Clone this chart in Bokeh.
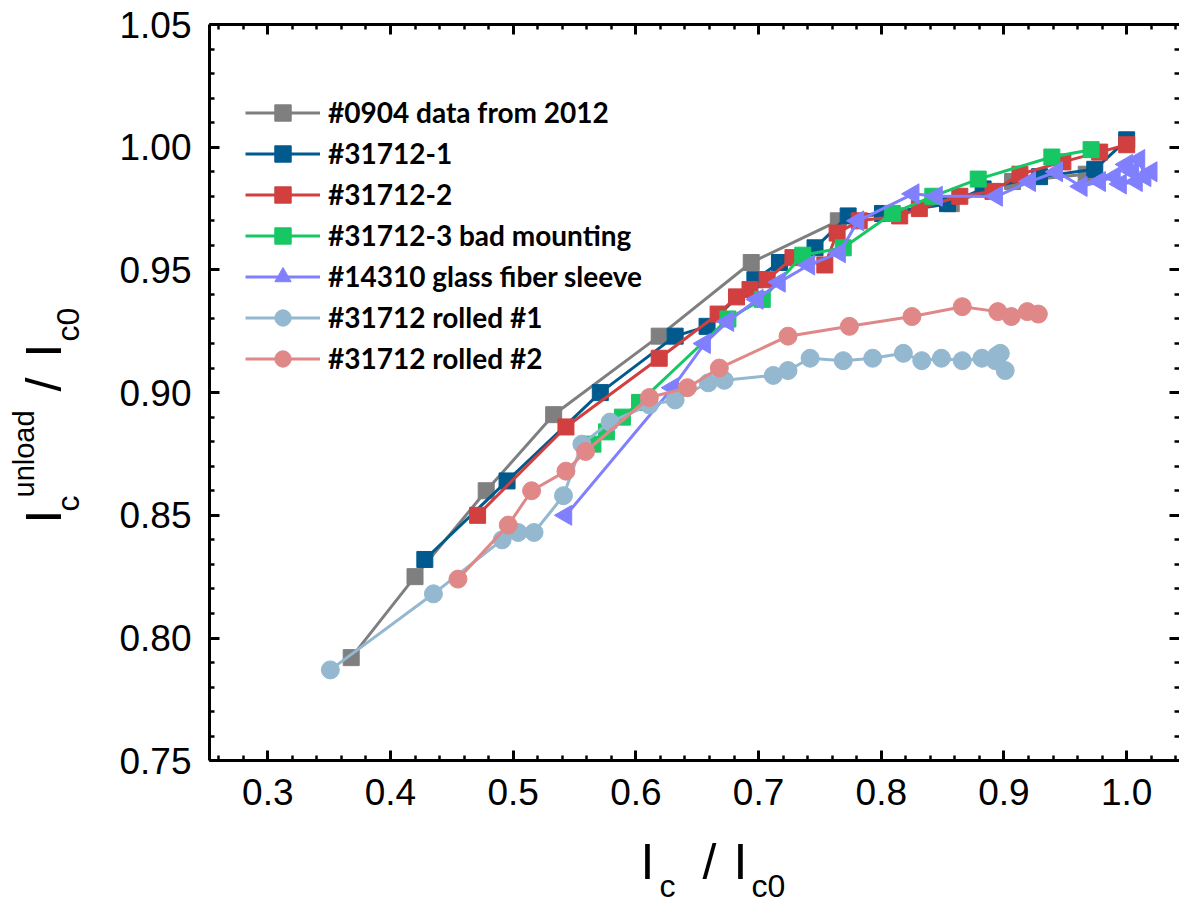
import numpy as np
from bokeh.plotting import figure
from bokeh.models import (Range1d, LinearAxis, Legend, LegendItem, Label,
                          FixedTicker, CustomJSTickFormatter, PrintfTickFormatter,
                          ColumnDataSource)
from bokeh.embed import file_html
from bokeh.resources import INLINE

# ---------------- data ----------------
names = ["#0904 data from 2012", "#31712-1", "#31712-2", "#31712-3 bad mounting",
         "#14310 glass fiber sleeve", "#31712 rolled #1", "#31712 rolled #2"]

gray_x = [0.368, 0.420, 0.478, 0.533, 0.619, 0.694, 0.765, 0.857, 0.907, 0.967]
gray_y = [0.792, 0.825, 0.860, 0.891, 0.923, 0.953, 0.970, 0.977, 0.986, 0.989]

blue_x = [0.428, 0.495, 0.571, 0.632, 0.658, 0.697, 0.717, 0.746, 0.773, 0.801,
          0.854, 0.883, 0.929, 0.974, 1.000]
blue_y = [0.832, 0.864, 0.900, 0.923, 0.927, 0.946, 0.953, 0.959, 0.972, 0.973,
          0.977, 0.983, 0.988, 0.991, 1.003]

red_x = [0.471, 0.543, 0.619, 0.667, 0.682, 0.693, 0.707, 0.728, 0.754, 0.764,
         0.782, 0.815, 0.831, 0.864, 0.891, 0.913, 0.948, 0.978, 1.000]
red_y = [0.850, 0.886, 0.914, 0.932, 0.939, 0.942, 0.946, 0.955, 0.952, 0.965,
         0.970, 0.972, 0.975, 0.980, 0.982, 0.989, 0.994, 0.998, 1.001]

green_x = [0.565, 0.576, 0.589, 0.603, 0.675, 0.703, 0.736, 0.769, 0.809, 0.842,
           0.879, 0.939, 0.971]
green_y = [0.879, 0.884, 0.890, 0.896, 0.930, 0.938, 0.956, 0.959, 0.973, 0.980,
           0.987, 0.996, 0.999]

purple_x = [0.543, 0.630, 0.656, 0.675, 0.699, 0.717, 0.741, 0.766, 0.781, 0.826,
            0.845, 0.894, 0.921, 0.943, 0.963, 0.978, 0.990, 1.000, 1.005, 1.010,
            1.015, 1.020, 1.008, 0.995]
purple_y = [0.850, 0.902, 0.920, 0.929, 0.938, 0.945, 0.952, 0.957, 0.970, 0.981,
            0.980, 0.980, 0.986, 0.990, 0.984, 0.986, 0.988, 0.993, 0.990, 0.995,
            0.988, 0.990, 0.986, 0.985]

lblue_x = [0.351, 0.435, 0.491, 0.504, 0.517, 0.541, 0.556, 0.579, 0.611, 0.632,
           0.659, 0.672, 0.712, 0.724, 0.742, 0.769, 0.793, 0.818, 0.833, 0.849,
           0.866, 0.882, 0.893, 0.897, 0.901, 0.894]
lblue_y = [0.787, 0.818, 0.840, 0.843, 0.843, 0.858, 0.879, 0.888, 0.895, 0.897,
           0.904, 0.905, 0.907, 0.909, 0.914, 0.913, 0.914, 0.916, 0.913, 0.914,
           0.913, 0.914, 0.913, 0.916, 0.909, 0.915]

pink_x = [0.455, 0.496, 0.515, 0.543, 0.559, 0.611, 0.642, 0.668, 0.724, 0.774,
          0.825, 0.866, 0.895, 0.906, 0.919, 0.928]
pink_y = [0.824, 0.846, 0.860, 0.868, 0.876, 0.898, 0.902, 0.910, 0.923, 0.927,
          0.931, 0.935, 0.933, 0.931, 0.933, 0.932]

x_ticks = [0.3, 0.4, 0.5, 0.6, 0.7, 0.8, 0.9, 1.0]
y_ticks = [0.75, 0.80, 0.85, 0.90, 0.95, 1.00, 1.05]

series = [
    (gray_x, gray_y, "#7f7f7f", "square"),
    (blue_x, blue_y, "#005a8e", "square"),
    (red_x, red_y, "#d13f3f", "square"),
    (green_x, green_y, "#17c764", "square"),
    (purple_x, purple_y, "#8080ff", "triangle"),
    (lblue_x, lblue_y, "#94b8d0", "circle"),
    (pink_x, pink_y, "#e08888", "circle"),
]

# ---------------- geometry ----------------
W, H = 1179, 911
FL, FT = 209, 24            # axes box left / top (px)
PXX = 1227.0                # px per x unit
PXY = 2454.0                # px per y unit
X0 = 0.2525                 # x at axes-box left
Y0, Y1 = 0.75, 1.05
X1 = X0 + (W - FL) / PXX    # x at right edge of the picture
YB = FT + (Y1 - Y0) * PXY   # bottom of axes box (px)

# frame covers the whole canvas; axes are fixed at the box edges
p = figure(width=W, height=H, output_backend="svg", toolbar_location=None,
           x_range=Range1d(X0 - FL / PXX, X1),
           y_range=Range1d(Y0 - (H - YB) / PXY, Y1 + FT / PXY),
           min_border_left=0, min_border_right=0, min_border_top=0,
           min_border_bottom=0)
p.xaxis.visible = False
p.yaxis.visible = False
p.grid.visible = False
p.outline_line_color = None
p.background_fill_color = "white"
p.border_fill_color = "white"

xminor = [round(v, 2) for v in np.arange(0.26, 1.045, 0.02)]
yminor = [round(v, 2) for v in np.arange(0.75, 1.0501, 0.01)]


def make_axis(loc, bounds, ticks, minor, show_labels, fmt, standoff=16, line=True):
    ax = LinearAxis(fixed_location=loc, bounds=bounds)
    ax.ticker = FixedTicker(ticks=ticks, minor_ticks=minor)
    ax.axis_line_width = 3
    ax.axis_line_color = "black" if line else None
    ax.major_tick_in = 10
    ax.major_tick_out = 0
    ax.minor_tick_in = 5
    ax.minor_tick_out = 0
    ax.major_tick_line_width = 3
    ax.minor_tick_line_width = 2.5
    if show_labels:
        ax.formatter = PrintfTickFormatter(format=fmt)
        ax.major_label_text_font = "Liberation Sans"
        ax.major_label_text_font_size = "37px"
        ax.major_label_text_color = "black"
        ax.major_label_standoff = standoff
    else:
        ax.formatter = CustomJSTickFormatter(code="return ''")
        ax.major_label_text_font_size = "1px"
        ax.major_label_standoff = 0
    return ax


p.add_layout(make_axis(Y0, (X0, X1), x_ticks, xminor, True, "%.1f", standoff=18), "below")
p.add_layout(make_axis(X0, (Y0, Y1), y_ticks, yminor, True, "%.2f", standoff=18), "left")
p.add_layout(make_axis(Y1, (X0, X1), x_ticks, xminor, False, None), "above")
p.add_layout(make_axis(X1, (Y0, Y1), y_ticks, yminor, False, None, line=False), "right")

# ---------------- series ----------------
items = []
for (xs, ys, col, mk), nm in zip(series, names):
    src = ColumnDataSource(dict(x=xs, y=ys, a=[np.pi / 2] * len(xs)))
    ln = p.line("x", "y", source=src, line_color=col, line_width=3)
    if mk == "square":
        sc = p.scatter("x", "y", source=src, marker="square", size=16,
                       fill_color=col, line_color=col)
    elif mk == "triangle":
        sc = p.scatter("x", "y", source=src, marker="triangle", size=20, angle="a",
                       fill_color=col, line_color=col)
    else:
        sc = p.scatter("x", "y", source=src, marker="circle", size=18,
                       fill_color=col, line_color=col)
    items.append(LegendItem(label=nm, renderers=[ln, sc], index=0))

legend = Legend(items=items, location=(245, H - 378.5), orientation="vertical")
legend.label_text_font = "Lato"
legend.label_text_font_style = "bold"
legend.label_text_font_size = "28px"
legend.label_text_color = "black"
legend.glyph_width = 75
legend.glyph_height = 41
legend.label_height = 41
legend.spacing = 0
legend.padding = 0
legend.margin = 0
legend.label_standoff = 8
legend.border_line_color = None
legend.background_fill_alpha = 0
p.add_layout(legend, "center")

# ---------------- axis titles (built from pieces, anchored at their middles) ----------------
def dx(px):
    return X0 + (px - FL) / PXX


def dy(py):
    return Y0 + (YB - py) / PXY


BIG = "50px"
SMALL = "32px"
SUP = "29px"
FONT = "Liberation Sans"

# (text, left px, middle px, size)
x_title = [("I", 640, 861, BIG), ("c", 659, 885, SMALL), ("/", 702, 861, BIG),
           ("I", 733, 861, BIG), ("c0", 751, 885, SMALL)]
for t, px, py, fs in x_title:
    p.add_layout(Label(x=dx(px), y=dy(py), text=t, text_font=FONT, text_font_size=fs,
                       text_align="left", text_baseline="middle", text_color="black"))

# (text, middle px, start px (bottom), size) -- rotated to read upwards
y_title = [("I", 43, 523, BIG), ("c", 67, 511, SMALL), ("unload", 23, 497, SUP),
           ("/", 43, 391, BIG), ("I", 43, 357, BIG), ("c0", 67, 341, SMALL)]
for t, px, py, fs in y_title:
    p.add_layout(Label(x=dx(px), y=dy(py), text=t, text_font=FONT, text_font_size=fs,
                       angle=np.pi / 2, text_align="left", text_baseline="middle",
                       text_color="black"))

open("out.html", "w").write(file_html(p, INLINE))
